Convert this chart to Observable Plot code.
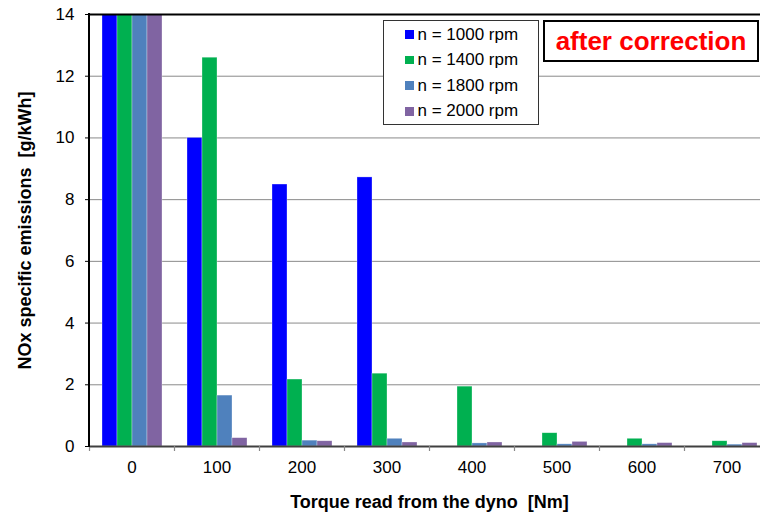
<!DOCTYPE html>
<html><head><meta charset="utf-8">
<script src="https://cdn.jsdelivr.net/npm/d3@7"></script>
<script src="https://cdn.jsdelivr.net/npm/@observablehq/plot@0.6"></script>
<style>
html,body{margin:0;padding:0;background:#fff;}
#wrap{position:relative;width:760px;height:515px;overflow:hidden;font-family:"Liberation Sans",Arial,sans-serif;}
#wrap svg{display:block;max-width:none;}
#legend{position:absolute;left:383px;top:20px;width:156px;height:105px;box-sizing:border-box;border:1.5px solid #333;background:#fff;}
.item{position:absolute;left:21px;height:20px;display:flex;align-items:center;font-size:17px;color:#000;white-space:nowrap;}
.sw{width:8.5px;height:8.5px;margin-right:4px;flex:none;}
#note{position:absolute;left:543px;top:20px;width:216px;height:42px;box-sizing:border-box;border:2.5px solid #000;background:#fff;color:#f00;font-weight:bold;font-size:26px;display:flex;align-items:center;justify-content:center;}
</style></head>
<body><div id="wrap"></div>
<script>
// ---- data ----
const torque = ["0", "100", "200", "300", "400", "500", "600", "700"];
const series = ["n = 1000 rpm", "n = 1400 rpm", "n = 1800 rpm", "n = 2000 rpm"];
const colors = ["#0000ff", "#00b050", "#4f81bd", "#8064a2"];
const rpm1000 = [14, 10.0, 8.49, 8.72, 0, 0, 0, 0];
const rpm1400 = [14, 12.6, 2.17, 2.36, 1.94, 0.43, 0.25, 0.17];
const rpm1800 = [14, 1.65, 0.19, 0.25, 0.10, 0.07, 0.07, 0.06];
const rpm2000 = [14, 0.27, 0.17, 0.13, 0.13, 0.15, 0.11, 0.11];
const yTicks = [0, 2, 4, 6, 8, 10, 12, 14];
const xTitle = "Torque read from the dyno \u00a0[Nm]";
const yTitle = "NOx specific emissions \u00a0[g/kWh]";
const noteText = "after correction";

const valuesBySeries = [rpm1000, rpm1400, rpm1800, rpm2000];
const data = torque.flatMap((t, i) => series.map((s, j) => ({torque: t, series: s, value: valuesBySeries[j][i]})));

const plot = Plot.plot({
  width: 770, height: 515,
  marginLeft: 89, marginRight: 1, marginTop: 14, marginBottom: 69,
  style: {fontFamily: "'Liberation Sans', Arial, sans-serif", fontSize: "17px", background: "#fff", color: "#000"},
  fx: {domain: torque, padding: 0, label: null, axis: null},
  x: {domain: series, paddingInner: 0, paddingOuter: 0.78, axis: null},
  y: {domain: [0, 14], axis: null},
  color: {domain: series, range: colors},
  marks: [
    Plot.gridY(yTicks, {stroke: "#8a8a8a", strokeOpacity: 1}),
    Plot.barY(data, {fx: "torque", x: "series", y: "value", fill: "series", stroke: "#fff", strokeWidth: 0.6, strokeOpacity: 0.5, clip: true}),
    Plot.ruleY([0], {stroke: "#404040", strokeWidth: 2}),
    Plot.ruleY([14], {stroke: "#000", strokeWidth: 2}),
    Plot.axisY({ticks: yTicks, tickSize: 4, tickPadding: 11, fontSize: 17, label: null}),
    Plot.axisY({ticks: [], tickSize: 0, label: yTitle, labelAnchor: "center", labelArrow: "none", labelOffset: 71, fontWeight: "bold", fontSize: 18}),
    Plot.axisFx({anchor: "bottom", tickSize: 0, tickPadding: 14, label: null, fontSize: 17}),
    Plot.axisFx({anchor: "bottom", tickSize: 5, stroke: "#888", strokeWidth: 1.2, tickFormat: () => "", dx: -42.5, label: null}),
    Plot.axisFx({anchor: "bottom", tickSize: 0, tickFormat: () => "", label: xTitle, labelAnchor: "center", labelArrow: "none", labelOffset: 61, fontWeight: "bold", fontSize: 18, dx: 13})
  ]
});

const wrap = document.getElementById("wrap");
wrap.appendChild(plot);

// left axis line placed from the plot's own fx and y scales
const fxScale = plot.scale("fx");
const yScale = plot.scale("y");
d3.select(plot).append("line")
  .attr("x1", fxScale.range[0]).attr("x2", fxScale.range[0])
  .attr("y1", yScale.apply(yScale.domain[0]) + 1).attr("y2", yScale.apply(yScale.domain[1]) - 1)
  .attr("stroke", "#000").attr("stroke-width", 2);

// legend built from the plot's colour scale
const color = plot.scale("color");
const legend = document.createElement("div");
legend.id = "legend";
color.domain.forEach((s, i) => {
  const item = document.createElement("div");
  item.className = "item";
  item.style.top = (3.5 + i * 25.6) + "px";
  const sw = document.createElement("span");
  sw.className = "sw";
  sw.style.background = color.range[i];
  const label = document.createElement("span");
  label.textContent = s;
  item.appendChild(sw);
  item.appendChild(label);
  legend.appendChild(item);
});
wrap.appendChild(legend);

const note = document.createElement("div");
note.id = "note";
note.textContent = noteText;
wrap.appendChild(note);
</script>
</body></html>
